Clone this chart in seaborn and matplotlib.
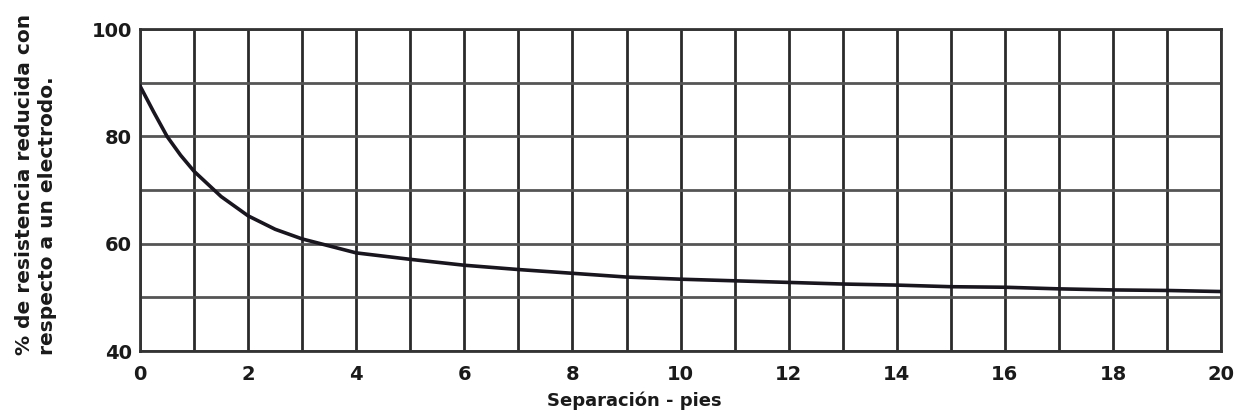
import matplotlib
matplotlib.use("Agg")
import matplotlib.pyplot as plt
from matplotlib.ticker import MultipleLocator
import seaborn as sns
import pandas as pd

# Separation between electrodes (feet) and the resulting resistance (% of one electrode)
separacion_pies = [0, 0.25, 0.5, 0.75, 1, 1.5, 2, 2.5, 3, 4, 5, 6, 7, 8, 9, 10,
                   11, 12, 13, 14, 15, 16, 17, 18, 19, 20]
resistencia_pct = [89.4, 84.6, 80.0, 76.5, 73.5, 68.8, 65.2, 62.7, 60.9, 58.3,
                   57.1, 56.0, 55.2, 54.5, 53.8, 53.4, 53.1, 52.8, 52.5, 52.3,
                   52.0, 51.9, 51.6, 51.4, 51.3, 51.1]

x_ticks = [0, 2, 4, 6, 8, 10, 12, 14, 16, 18, 20]
y_ticks = [40, 60, 80, 100]

df = pd.DataFrame({"sep": separacion_pies, "res": resistencia_pct})

sns.set_theme(style="white")
plt.rcParams["font.family"] = ["DejaVu Sans"]

fig = plt.figure(figsize=(12.46, 4.16), dpi=100)
ax = fig.add_axes([0.1124, 0.156, 0.8676, 0.774])

sns.lineplot(data=df, x="sep", y="res", ax=ax, color="#1a1620",
             linewidth=2.6, zorder=5)

ax.set_xlim(0, 20)
ax.set_ylim(40, 100)
ax.set_xticks(x_ticks)
ax.set_yticks(y_ticks)
ax.xaxis.set_minor_locator(MultipleLocator(1))
ax.yaxis.set_minor_locator(MultipleLocator(10))

ax.grid(True, which="both", axis="x", color="#2a2a2a", linewidth=2.0)
ax.grid(True, which="both", axis="y", color="#555555", linewidth=2.0)
ax.set_axisbelow(True)

for s in ax.spines.values():
    s.set_color("#333333")
    s.set_linewidth(2.0)

ax.tick_params(axis="both", which="both", length=0, labelsize=14,
               colors="#1a1a1a")
ax.tick_params(axis="x", pad=10)
ax.tick_params(axis="y", pad=6)
for lab in ax.get_xticklabels() + ax.get_yticklabels():
    lab.set_fontweight("bold")

ax.set_xlabel("Separación - pies", fontsize=13, fontweight="bold",
              color="#1a1a1a")
ax.xaxis.set_label_coords(0.457, -0.125)
ax.set_ylabel("% de resistencia reducida con\nrespecto a un electrodo.",
              fontsize=14.5, fontweight="bold", color="#1a1a1a",
              linespacing=1.25, multialignment="left")
ax.yaxis.set_label_coords(-0.077, 0.519)

fig.savefig("out.png", dpi=100, facecolor="white")
